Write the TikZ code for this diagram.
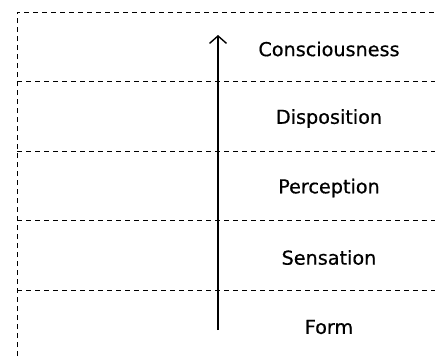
\documentclass[tikz,border=0pt]{standalone}
\usepackage{fontspec}
\newfontfamily\lblfont{DejaVu Sans}[FakeBold=0.6]
\usetikzlibrary{arrows.meta}

\begin{document}
\begin{tikzpicture}[
  x=1pt,y=-1pt,
  sep/.style={dash pattern=on 5pt off 4pt,line width=0.9pt},
  lbl/.style={font=\fontsize{19.2}{22}\lblfont,inner sep=0pt},
  arr/.style={-{Straight Barb[length=7.5pt,width=17pt,line width=1.4pt]},line width=1.6pt},
]
\useasboundingbox (0,0) rectangle (435,356);
% frame and band separators
\draw[sep] (17,356) -- (17,12) -- (435,12);
\foreach \y in {81,151,220,290}
  \draw[sep] (17,\y) -- (435,\y);
% the five aggregates
\node[lbl] (form) at (329,327) {Form};
\node[lbl] (sensation) at (329,257.5) {Sensation};
\node[lbl] (perception) at (329,188) {Perception};
\node[lbl] (disposition) at (329,118.5) {Disposition};
\node[lbl] (consciousness) at (329,49) {Consciousness};
% upward arrow
\coordinate (base) at (218,330);
\coordinate (tip) at (218,35);
\draw[arr] (base) -- (tip);
\end{tikzpicture}
\end{document}
